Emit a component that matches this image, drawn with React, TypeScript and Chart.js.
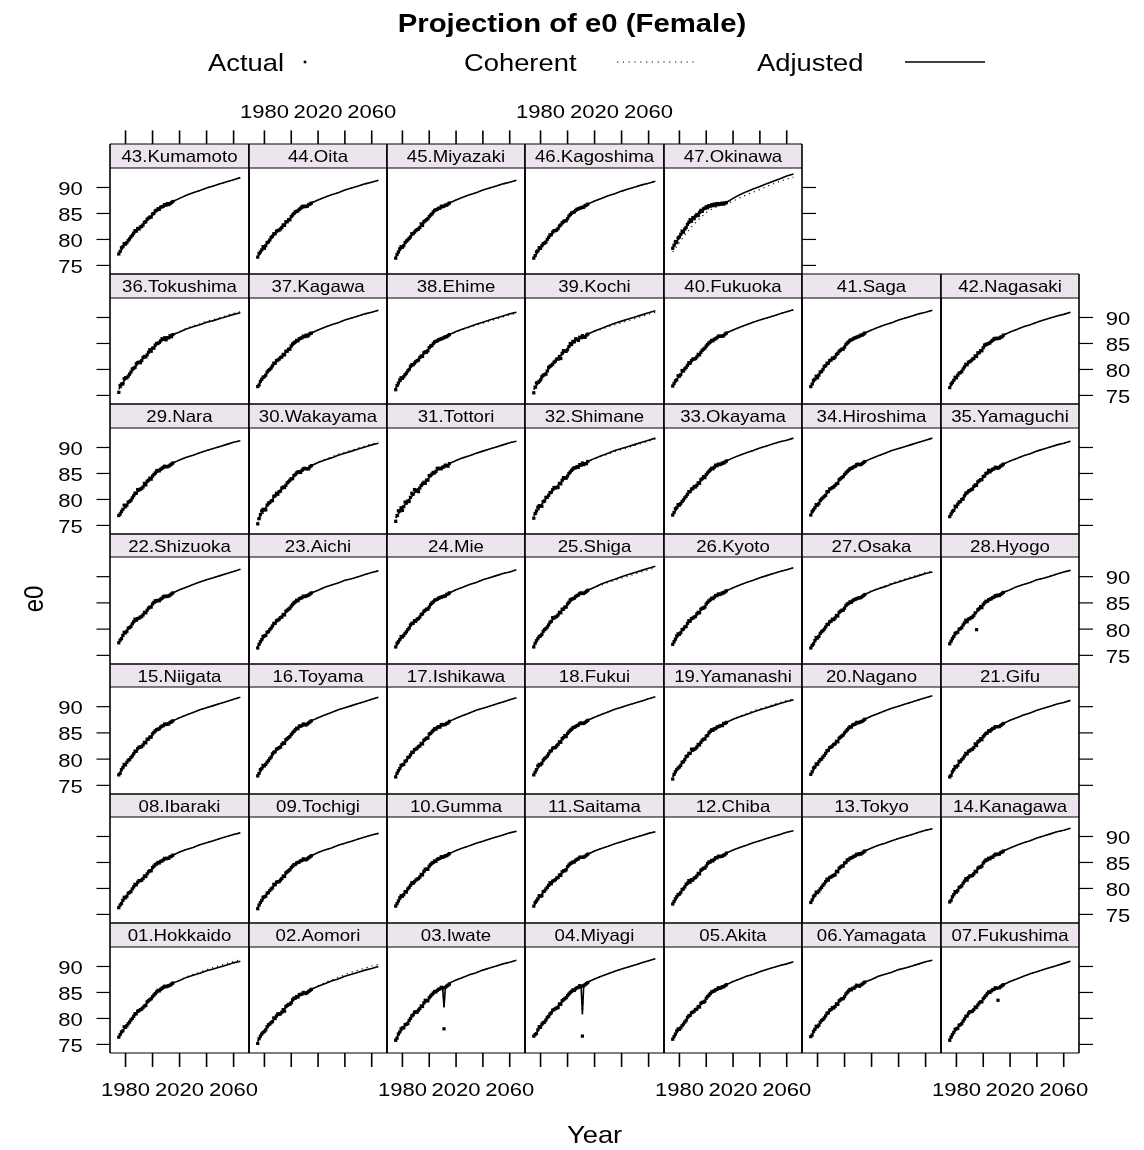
import React, { useEffect, useRef, useState } from "react";
import { Chart, registerables } from "chart.js";
Chart.register(...registerables);

// ---------------- data ----------------
const names = [
  "01.Hokkaido","02.Aomori","03.Iwate","04.Miyagi","05.Akita","06.Yamagata","07.Fukushima",
  "08.Ibaraki","09.Tochigi","10.Gumma","11.Saitama","12.Chiba","13.Tokyo","14.Kanagawa",
  "15.Niigata","16.Toyama","17.Ishikawa","18.Fukui","19.Yamanashi","20.Nagano","21.Gifu",
  "22.Shizuoka","23.Aichi","24.Mie","25.Shiga","26.Kyoto","27.Osaka","28.Hyogo",
  "29.Nara","30.Wakayama","31.Tottori","32.Shimane","33.Okayama","34.Hiroshima","35.Yamaguchi",
  "36.Tokushima","37.Kagawa","38.Ehime","39.Kochi","40.Fukuoka","41.Saga","42.Nagasaki",
  "43.Kumamoto","44.Oita","45.Miyazaki","46.Kagoshima","47.Okinawa",
];

const actualYears = [
  1975,1976,1977,1978,1979,1980,1981,1982,1983,1984,1985,1986,1987,1988,1989,1990,1991,1992,1993,1994,
  1995,1996,1997,1998,1999,2000,2001,2002,2003,2004,2005,2006,2007,2008,2009,2010,2011,2012,2013,2014,2015,
];

const lineYears = [
  1975,1980,1985,1990,1995,2000,2005,2010,2011,2012,2015,2020,2025,2030,2035,2040,2045,2050,2055,2060,2065,
];

const actual: number[][] = [
  [76.4,76.9,77.4,77.6,78.4,78.3,78.6,79.0,79.3,79.7,80.0,80.4,80.9,80.9,81.4,81.5,81.7,81.8,82.1,82.4,82.5,83.2,83.4,83.6,83.8,84.2,84.5,84.8,85.1,85.4,85.3,85.6,85.8,86.0,86.2,86.1,86.2,86.3,86.4,86.6,86.8],
  [75.2,76.1,76.6,77.0,77.3,77.5,77.8,78.4,78.8,78.9,79.2,79.4,80.1,80.0,80.5,80.9,80.8,80.9,81.2,81.7,81.4,82.3,82.5,82.7,82.7,83.0,83.6,83.9,83.9,84.2,84.1,84.6,84.6,84.7,85.0,84.9,84.8,85.0,85.2,85.4,85.6],
  [75.8,76.2,77.0,77.4,78.0,78.2,78.2,78.8,78.9,79.0,79.6,80.0,80.5,80.7,81.2,81.3,81.2,81.6,81.9,82.4,82.3,83.0,83.5,83.4,83.4,84.0,84.3,84.6,84.9,85.2,85.1,85.4,85.6,85.7,86.0,85.9,78.0,86.0,86.2,86.4,86.6],
  [76.6,76.9,77.1,77.8,78.4,78.3,78.9,79.2,79.3,79.7,80.2,80.4,80.9,81.1,81.6,81.7,81.9,82.0,82.1,82.8,82.7,83.4,83.6,83.8,84.0,84.4,84.7,85.0,85.2,85.5,85.4,85.7,85.9,86.0,86.3,86.2,76.6,86.3,86.5,86.7,86.9],
  [76.0,76.5,77.0,77.6,78.0,77.9,78.2,78.6,78.9,79.3,79.6,80.2,80.5,80.6,81.1,81.2,81.4,81.7,81.8,82.3,82.2,82.9,83.1,83.1,83.3,83.9,84.2,84.5,84.8,85.1,85.2,85.3,85.5,85.6,85.9,85.8,85.9,86.1,86.1,86.3,86.5],
  [76.5,76.8,77.5,77.9,78.5,78.4,78.7,79.3,79.6,79.8,80.1,80.5,81.0,81.1,81.6,81.7,82.1,82.0,82.3,82.8,82.7,83.4,83.6,83.8,83.8,84.2,84.7,85.0,85.3,85.6,85.5,85.8,85.8,86.1,86.4,86.3,86.2,86.4,86.6,86.8,87.0],
  [75.8,76.4,76.9,77.3,77.9,78.0,78.1,78.7,78.8,79.0,79.5,79.9,80.4,80.5,81.0,81.3,81.3,81.4,81.7,82.2,82.1,82.6,83.0,83.2,83.2,83.8,84.1,84.4,84.8,85.1,85.0,85.3,85.5,85.6,85.9,85.8,83.5,85.9,86.1,86.3,86.5],
  [76.3,76.8,77.1,77.7,78.3,78.2,78.5,79.1,79.2,79.4,79.9,80.3,80.8,80.7,81.2,81.5,81.5,81.6,81.9,82.4,82.3,82.8,83.2,83.4,83.4,84.0,84.3,84.6,84.7,85.0,84.9,85.2,85.3,85.5,85.8,85.7,85.8,85.8,86.1,86.2,86.4],
  [76.1,76.8,77.3,77.7,78.3,78.4,78.5,79.1,79.2,79.6,79.9,80.1,80.8,80.7,81.2,81.3,81.3,81.6,81.9,82.4,82.3,83.0,83.2,83.4,83.6,84.0,84.3,84.6,84.6,84.9,85.0,85.1,85.3,85.4,85.7,85.6,85.5,85.7,85.9,86.1,86.3],
  [76.6,77.1,77.6,78.2,78.6,78.5,78.8,79.4,79.3,79.9,80.2,80.6,81.1,81.0,81.3,81.6,81.8,81.9,82.2,82.7,82.6,83.3,83.7,83.7,83.7,84.3,84.6,84.9,85.0,85.3,85.2,85.6,85.7,85.8,86.1,86.0,86.1,86.3,86.3,86.5,86.7],
  [76.6,77.3,77.6,78.0,78.6,78.5,78.6,79.4,79.5,79.9,80.2,80.6,81.1,80.9,81.4,81.5,81.7,82.0,82.1,82.6,82.5,83.2,83.4,83.4,83.6,84.2,84.5,84.8,84.9,85.1,85.1,85.4,85.6,85.7,86.0,86.0,86.0,86.0,86.2,86.4,86.6],
  [77.0,77.5,78.0,78.4,78.8,78.9,79.2,79.8,79.9,80.3,80.8,81.0,81.5,81.2,81.7,81.6,82.0,82.1,82.4,82.9,82.8,83.5,83.7,83.9,83.9,84.3,84.8,85.1,85.1,85.4,85.3,85.6,85.9,85.9,86.2,86.1,86.2,86.2,86.4,86.5,86.8],
  [77.3,77.8,78.5,78.7,79.3,79.2,79.5,79.9,80.2,80.6,80.9,81.3,81.8,81.6,82.1,82.2,82.4,82.5,82.6,83.3,83.2,83.9,84.1,84.3,84.3,84.9,85.0,85.5,85.5,85.8,85.9,86.0,86.2,86.3,86.6,86.5,86.7,86.6,86.8,87.0,87.2],
  [77.4,77.7,78.4,78.8,79.4,79.3,79.6,80.2,80.3,80.5,81.0,81.4,81.9,81.6,82.1,82.4,82.4,82.5,82.8,83.3,83.2,83.9,84.1,84.1,84.3,84.9,85.2,85.5,85.5,85.8,85.7,86.0,86.0,86.3,86.6,86.5,86.6,86.6,86.9,87.0,87.2],
  [77.0,77.3,78.0,78.4,79.0,78.9,79.4,79.8,79.9,80.3,80.6,81.0,81.5,81.5,82.0,82.3,82.3,82.4,82.7,83.2,83.1,83.8,83.8,84.2,84.2,84.8,85.1,85.4,85.6,85.7,85.8,86.1,86.3,86.4,86.7,86.6,86.7,86.7,87.0,87.1,87.3],
  [76.8,77.3,78.0,78.2,78.8,78.7,79.0,79.4,79.7,80.1,80.4,81.0,81.3,81.4,81.9,82.0,82.2,82.3,82.8,83.1,83.0,83.7,83.9,84.1,84.3,84.7,85.0,85.3,85.6,85.9,85.8,86.3,86.3,86.4,86.7,86.6,86.5,86.7,86.9,87.1,87.3],
  [76.6,77.3,77.8,78.2,78.8,78.9,79.0,79.6,79.7,80.3,80.4,80.8,81.3,81.3,81.8,81.9,82.1,82.4,82.5,83.0,82.9,83.6,83.8,84.0,84.0,84.8,84.9,85.2,85.5,85.8,85.7,86.0,86.2,86.1,86.6,86.5,86.6,86.6,86.8,86.9,87.2],
  [77.0,77.5,78.0,78.7,79.0,78.9,79.2,79.8,80.1,80.3,80.6,81.0,81.5,81.6,82.1,82.2,82.2,82.5,82.8,83.3,83.2,83.9,84.1,84.5,84.3,84.9,85.2,85.5,85.7,86.0,86.1,86.2,86.4,86.5,86.8,86.9,86.8,86.8,87.0,87.2,87.4],
  [76.2,77.1,77.6,78.0,78.3,78.5,78.8,79.4,79.5,79.9,80.5,80.6,81.1,81.1,81.9,81.7,81.9,82.0,82.3,82.8,82.7,83.2,83.6,83.8,83.8,84.4,84.5,85.0,85.3,85.6,85.5,85.8,85.8,86.1,86.2,86.3,86.4,86.4,86.8,86.8,87.0],
  [77.1,77.6,78.3,78.5,79.1,79.0,79.5,79.9,80.0,80.4,80.7,81.1,81.6,81.7,82.2,82.3,82.5,82.8,82.9,83.4,83.3,84.0,84.2,84.4,84.6,85.0,85.3,85.6,85.9,86.2,86.1,86.5,86.6,86.7,87.0,86.9,87.0,87.1,87.2,87.4,87.6],
  [76.6,76.9,77.6,78.0,78.6,78.5,78.8,79.6,79.5,79.9,80.2,80.6,81.1,81.0,81.5,81.6,81.8,81.9,82.2,82.9,82.6,83.3,83.5,83.9,83.7,84.3,84.6,84.9,85.0,85.4,85.3,85.6,85.8,85.9,86.2,86.2,86.2,86.2,86.4,86.6,86.8],
  [77.4,77.9,78.2,78.8,79.4,79.3,79.6,80.2,80.3,80.5,81.0,81.4,81.9,81.7,82.0,82.1,82.3,82.4,82.7,83.2,83.1,83.6,84.0,84.2,84.2,84.8,85.1,85.4,85.4,85.5,85.4,85.7,85.9,86.2,86.3,86.2,86.3,86.3,86.5,86.7,86.9],
  [76.4,77.1,77.6,78.0,78.6,78.7,78.8,79.4,79.5,79.9,80.2,80.6,81.1,81.1,81.6,81.7,81.9,82.2,82.3,82.8,82.7,83.4,83.6,83.8,84.0,84.4,84.7,85.0,85.2,85.5,85.4,85.8,85.9,86.0,86.3,86.2,86.3,86.4,86.5,86.7,86.9],
  [76.6,77.3,77.6,78.0,78.6,78.5,78.8,79.2,79.5,79.9,80.2,80.8,81.1,81.1,81.6,81.5,81.9,82.0,82.3,82.8,82.9,83.4,83.6,83.8,83.8,84.2,84.7,85.0,85.2,85.5,85.6,85.7,85.9,86.0,86.1,86.2,86.3,86.3,86.6,86.7,86.9],
  [76.6,77.3,77.8,78.2,78.6,78.7,79.0,79.6,79.9,80.1,80.4,80.8,81.3,81.5,82.2,82.1,82.3,82.4,82.7,83.2,83.1,83.8,83.8,84.2,84.2,84.8,85.1,85.6,85.7,85.8,85.9,86.2,86.4,86.5,86.8,86.9,86.8,86.8,87.0,87.2,87.4],
  [77.1,77.6,78.1,78.7,79.1,79.0,79.3,79.9,80.0,80.4,80.5,81.1,81.6,81.5,82.0,82.1,82.3,82.4,82.9,83.2,83.1,83.8,84.0,84.0,84.2,84.8,85.1,85.4,85.6,85.9,85.8,86.1,86.4,86.4,86.7,86.6,86.7,86.9,86.9,87.1,87.3],
  [76.4,76.9,77.2,77.8,78.4,78.3,78.6,79.2,79.5,79.7,80.0,80.4,80.9,80.9,81.4,81.5,81.9,81.8,82.1,82.6,82.5,83.2,83.4,83.6,83.6,84.0,84.5,84.8,84.9,85.2,85.1,85.4,85.6,85.7,85.8,85.9,86.0,86.0,86.2,86.4,86.6],
  [77.2,77.7,78.2,78.6,79.2,79.3,79.4,80.0,80.1,80.3,80.8,81.2,81.7,81.4,81.9,82.0,82.2,82.3,82.6,83.1,79.9,83.7,83.9,84.3,84.1,84.7,85.0,85.3,85.3,85.6,85.7,85.8,86.0,86.1,86.4,86.3,86.5,86.4,86.6,86.8,87.0],
  [76.9,77.2,77.7,78.1,78.9,78.6,78.9,79.5,79.6,79.8,80.3,80.7,81.2,81.2,81.9,81.8,82.0,82.1,82.4,83.1,82.8,83.5,83.7,84.1,83.9,84.5,84.8,85.1,85.5,85.6,85.5,85.8,86.0,86.2,86.4,86.3,86.3,86.4,86.6,86.8,87.0],
  [75.3,76.3,77.1,77.8,78.1,78.0,78.0,78.9,79.3,79.4,79.7,79.8,80.6,80.7,81.2,81.0,81.5,81.6,82.2,82.4,82.3,82.7,83.2,83.4,83.7,84.0,84.0,84.6,84.8,85.1,85.3,85.3,85.2,85.6,85.9,86.0,85.9,85.9,85.9,86.3,86.5],
  [75.8,76.9,77.8,77.8,78.4,77.9,78.6,79.5,79.3,79.7,79.6,80.4,81.2,81.0,81.9,81.6,81.8,81.5,82.2,82.7,83.0,83.3,83.1,83.7,83.7,84.6,84.6,84.9,85.2,85.1,85.4,86.0,85.9,86.0,85.9,86.2,86.3,86.6,86.5,86.4,86.9],
  [76.4,77.3,77.8,78.5,78.8,78.7,78.7,79.6,79.7,80.4,80.4,80.8,81.3,81.4,81.9,82.3,82.2,82.3,82.3,83.1,83.0,83.7,84.2,84.1,84.1,84.5,85.0,85.3,85.6,85.9,86.1,86.1,86.3,86.2,86.7,86.6,87.0,86.7,86.9,86.9,87.3],
  [77.0,77.5,78.2,78.4,79.0,78.9,79.2,79.6,79.9,80.3,80.6,81.0,81.5,81.5,82.0,82.1,82.5,82.4,82.7,83.2,83.1,83.8,84.0,84.4,84.2,84.8,85.1,85.4,85.7,86.0,85.9,86.2,86.6,86.5,86.8,86.7,86.8,87.0,87.0,87.2,87.4],
  [77.0,77.7,78.0,78.4,79.0,78.9,79.2,79.8,80.1,80.3,80.6,80.8,81.5,81.5,82.0,82.1,82.3,82.4,82.7,83.0,83.1,83.8,84.0,84.2,84.4,84.8,85.1,85.4,85.6,85.9,86.0,86.1,86.3,86.4,86.7,86.8,86.7,86.7,86.9,87.1,87.3],
  [76.7,77.2,77.7,77.9,78.7,78.6,79.1,79.5,79.6,80.0,80.1,80.7,81.2,81.3,81.6,81.7,81.9,82.0,82.5,82.8,82.7,83.4,83.6,83.8,83.8,84.4,84.5,85.0,85.1,85.6,85.3,85.6,85.8,85.9,86.2,86.1,86.0,86.2,86.4,86.6,86.8],
  [75.6,76.9,77.2,77.2,78.2,78.4,78.4,78.7,79.1,79.5,80.1,80.2,80.4,81.1,81.3,81.4,81.3,81.7,82.3,82.5,82.4,82.8,83.3,83.8,83.5,84.1,84.1,84.7,85.0,85.0,85.2,85.5,85.9,85.8,86.1,85.7,86.1,86.1,86.5,86.3,86.7],
  [76.7,77.0,77.7,78.1,78.5,78.6,78.9,79.5,79.8,80.0,80.3,80.7,81.2,81.2,81.7,81.8,82.0,82.3,82.4,82.9,82.8,83.5,83.5,83.9,83.9,84.5,84.9,85.1,85.3,85.6,85.5,85.9,86.0,86.1,86.4,86.3,86.6,86.4,86.6,86.9,87.0],
  [76.1,76.9,77.4,78.0,78.4,78.3,78.6,79.0,79.3,79.7,80.0,80.6,80.9,80.9,81.2,81.5,81.7,81.8,82.3,82.6,82.5,83.2,83.4,83.3,83.6,84.2,84.5,84.6,85.0,85.3,85.4,85.5,85.7,85.8,85.9,86.0,86.1,86.3,86.3,86.5,86.7],
  [75.5,76.6,77.4,77.5,77.7,78.0,78.6,78.9,79.0,79.1,79.7,80.4,80.6,80.8,81.0,81.4,81.6,82.0,82.0,82.5,82.1,83.1,83.6,83.5,83.5,83.8,84.4,85.0,84.8,85.4,85.3,85.9,85.8,85.6,86.2,86.1,86.5,86.2,86.2,86.6,86.8],
  [76.8,77.3,77.8,78.0,78.8,78.7,79.0,79.8,79.7,80.1,80.4,80.8,81.3,81.2,81.7,82.0,82.0,82.1,82.4,82.9,82.8,83.3,83.7,83.9,84.1,84.5,84.8,85.1,85.3,85.6,85.5,85.8,85.9,86.1,86.4,86.4,86.4,86.4,86.5,86.8,87.0],
  [76.7,77.2,77.9,78.1,78.7,78.4,78.9,79.5,79.6,80.0,80.6,80.7,81.2,81.2,81.7,81.8,82.2,82.1,82.4,82.9,83.1,83.5,83.7,83.9,83.9,84.3,84.8,85.1,85.3,85.6,85.7,85.8,86.0,86.1,86.2,86.3,86.4,86.6,86.6,86.8,87.0],
  [76.5,77.2,77.5,77.9,78.5,78.4,78.9,79.3,79.4,79.6,80.1,80.5,81.0,80.9,81.4,81.5,81.7,82.0,82.1,82.6,82.5,83.2,83.2,83.6,83.6,84.2,84.7,84.8,84.9,85.0,85.1,85.4,85.6,85.9,86.0,85.9,86.0,86.0,86.2,86.3,86.6],
  [77.2,77.7,78.4,78.6,79.2,79.1,79.4,79.8,80.1,80.5,80.8,81.2,81.7,81.6,82.1,82.0,82.4,82.5,82.8,83.3,83.4,83.9,84.1,84.3,84.3,84.9,85.0,85.5,85.6,85.9,85.8,86.2,86.3,86.4,86.7,86.6,86.9,86.7,86.9,87.1,87.3],
  [76.6,77.3,77.6,78.0,78.6,78.3,78.8,79.4,79.5,79.9,80.4,80.6,81.1,81.1,81.6,81.7,81.8,82.0,82.3,82.8,82.7,83.4,83.4,83.8,83.8,84.4,84.7,85.0,85.3,85.4,85.5,85.8,86.0,86.3,86.4,86.3,86.4,86.4,86.7,86.8,87.0],
  [76.4,77.1,77.6,78.2,78.6,78.5,78.8,79.4,79.7,79.9,80.2,80.5,81.1,81.1,81.4,81.7,81.9,82.0,82.3,83.0,82.7,83.4,83.6,83.8,84.0,84.4,84.7,84.9,85.3,85.6,85.7,85.8,86.0,86.0,86.4,86.3,86.4,86.6,86.6,86.8,87.0],
  [76.4,76.9,77.6,77.8,78.4,78.3,78.8,79.2,79.3,79.5,80.0,80.4,80.9,80.9,81.4,81.7,81.7,81.8,82.1,82.6,82.8,83.2,83.4,83.6,83.6,84.0,84.5,84.8,85.1,85.2,85.3,85.6,85.8,85.9,86.0,86.1,86.2,86.2,86.5,86.6,86.8],
  [78.3,78.9,79.6,79.4,80.3,80.5,81.0,81.6,81.4,82.0,82.3,82.9,83.3,83.8,83.5,84.2,84.0,84.5,84.8,84.6,85.2,85.6,85.4,85.9,86.0,86.3,86.1,86.5,86.4,86.7,86.5,86.8,86.6,86.9,86.7,86.9,86.8,87.0,86.8,87.0,87.1],
];

const adjusted: number[][] = [
  [76.4,78.4,80.0,81.5,82.7,84.1,85.4,86.1,86.2,86.3,86.8,87.3,87.9,88.3,88.7,89.2,89.5,89.9,90.3,90.7,91.0],
  [75.6,77.6,79.2,80.6,81.8,83.2,84.2,84.9,85.0,85.1,85.6,86.2,86.7,87.2,87.6,88.1,88.5,88.9,89.3,89.6,90.0],
  [76.0,78.0,79.6,81.3,82.5,83.9,85.2,85.9,82.1,86.0,86.8,87.4,87.9,88.4,88.8,89.3,89.7,90.1,90.5,90.8,91.2],
  [76.4,78.4,80.0,81.7,82.9,84.3,85.6,86.3,80.8,86.5,87.0,87.6,88.1,88.6,89.1,89.5,89.9,90.3,90.7,91.1,91.5],
  [76.0,78.0,79.6,81.2,82.4,83.8,85.1,85.8,85.9,86.0,86.5,87.1,87.6,88.1,88.5,89.0,89.4,89.8,90.2,90.5,90.9],
  [76.5,78.5,80.1,81.7,82.9,84.3,85.6,86.3,86.4,86.5,87.0,87.5,88.1,88.5,88.9,89.4,89.7,90.1,90.5,90.9,91.2],
  [75.9,77.9,79.5,81.1,82.3,83.7,85.1,85.8,85.9,86.0,86.5,87.1,87.6,88.1,88.6,89.0,89.4,89.8,90.2,90.6,91.0],
  [76.3,78.3,79.9,81.3,82.5,83.9,85.0,85.7,85.8,85.9,86.4,87.0,87.5,87.9,88.4,88.8,89.2,89.6,90.0,90.4,90.7],
  [76.3,78.3,79.9,81.3,82.5,83.9,84.9,85.6,85.7,85.8,86.3,86.9,87.4,87.8,88.3,88.7,89.1,89.5,89.9,90.3,90.6],
  [76.6,78.6,80.2,81.6,82.8,84.2,85.3,86.0,86.1,86.2,86.7,87.3,87.8,88.2,88.7,89.1,89.5,89.9,90.3,90.7,91.0],
  [76.6,78.6,80.2,81.5,82.7,84.1,85.2,85.9,86.0,86.1,86.6,87.2,87.7,88.1,88.6,89.0,89.4,89.8,90.2,90.6,90.9],
  [77.0,79.0,80.6,81.8,83.0,84.4,85.4,86.1,86.2,86.3,86.8,87.4,87.9,88.3,88.8,89.2,89.6,90.0,90.4,90.8,91.1],
  [77.3,79.3,80.9,82.2,83.4,84.8,85.8,86.5,86.6,86.7,87.2,87.8,88.3,88.7,89.2,89.6,90.0,90.4,90.8,91.2,91.5],
  [77.4,79.4,81.0,82.2,83.4,84.8,85.8,86.5,86.6,86.7,87.2,87.8,88.3,88.8,89.2,89.7,90.1,90.5,90.9,91.2,91.6],
  [77.0,79.0,80.6,82.1,83.3,84.7,85.9,86.6,86.7,86.8,87.3,87.9,88.4,88.9,89.4,89.8,90.2,90.6,91.0,91.4,91.8],
  [76.8,78.8,80.4,82.0,83.2,84.6,85.9,86.6,86.7,86.8,87.3,87.9,88.4,88.9,89.4,89.8,90.2,90.6,91.0,91.4,91.8],
  [76.8,78.8,80.4,81.9,83.1,84.5,85.8,86.5,86.6,86.7,87.2,87.8,88.3,88.8,89.3,89.7,90.1,90.5,90.9,91.3,91.7],
  [77.0,79.0,80.6,82.2,83.4,84.8,86.0,86.7,86.8,86.9,87.4,88.0,88.5,89.0,89.5,89.9,90.3,90.7,91.1,91.5,91.9],
  [76.6,78.6,80.2,81.7,82.9,84.3,85.6,86.3,86.4,86.5,87.0,87.6,88.1,88.5,89.0,89.4,89.8,90.2,90.6,91.0,91.3],
  [77.1,79.1,80.7,82.3,83.5,84.9,86.2,86.9,87.0,87.1,87.6,88.2,88.7,89.2,89.7,90.1,90.5,90.9,91.3,91.7,92.1],
  [76.6,78.6,80.2,81.6,82.8,84.2,85.4,86.1,86.2,86.3,86.8,87.4,87.9,88.4,88.8,89.3,89.7,90.1,90.5,90.8,91.2],
  [77.4,79.4,81.0,82.1,83.3,84.7,85.5,86.2,86.3,86.4,86.9,87.5,88.0,88.5,89.0,89.4,89.8,90.2,90.6,91.0,91.4],
  [76.6,78.6,80.2,81.7,82.9,84.3,85.5,86.2,86.3,86.4,86.9,87.4,88.0,88.4,88.8,89.3,89.6,90.0,90.4,90.8,91.1],
  [76.6,78.6,80.2,81.7,82.9,84.3,85.5,86.2,86.3,86.4,86.9,87.5,88.0,88.5,88.9,89.4,89.8,90.2,90.6,90.9,91.3],
  [76.8,78.8,80.4,82.1,83.3,84.7,86.0,86.7,86.8,86.9,87.4,88.0,88.6,89.1,89.5,90.0,90.4,90.8,91.2,91.6,92.0],
  [77.1,79.1,80.7,82.1,83.3,84.7,85.9,86.6,86.7,86.8,87.3,87.9,88.4,88.9,89.3,89.8,90.2,90.6,91.0,91.3,91.7],
  [76.4,78.4,80.0,81.5,82.7,84.1,85.2,85.9,86.0,86.1,86.6,87.2,87.7,88.1,88.6,89.0,89.4,89.8,90.2,90.6,90.9],
  [77.2,79.2,80.8,82.0,83.2,84.6,85.6,86.3,86.4,86.5,87.0,87.5,88.1,88.5,88.9,89.4,89.7,90.1,90.5,90.9,91.2],
  [76.7,78.7,80.3,81.8,83.0,84.4,85.6,86.3,86.4,86.5,87.0,87.6,88.1,88.5,89.0,89.4,89.8,90.2,90.6,91.0,91.3],
  [76.1,78.1,79.7,81.3,82.5,83.9,85.1,85.8,85.9,86.0,86.5,87.1,87.6,88.0,88.5,88.9,89.3,89.7,90.1,90.5,90.8],
  [76.4,78.4,80.0,81.6,82.8,84.2,85.5,86.2,86.3,86.4,86.9,87.5,88.0,88.4,88.9,89.3,89.7,90.1,90.5,90.9,91.2],
  [76.8,78.8,80.4,82.0,83.2,84.6,85.9,86.6,86.7,86.8,87.3,87.9,88.4,88.9,89.4,89.8,90.2,90.6,91.0,91.4,91.8],
  [77.0,79.0,80.6,82.1,83.3,84.7,86.0,86.7,86.8,86.9,87.4,88.0,88.5,89.0,89.4,89.9,90.3,90.7,91.1,91.4,91.8],
  [77.0,79.0,80.6,82.1,83.3,84.7,85.9,86.6,86.7,86.8,87.3,87.9,88.4,88.9,89.4,89.8,90.2,90.6,91.0,91.4,91.8],
  [76.7,78.7,80.3,81.7,82.9,84.3,85.4,86.1,86.2,86.3,86.8,87.4,87.9,88.4,88.8,89.3,89.7,90.1,90.5,90.8,91.2],
  [76.2,78.2,79.8,81.4,82.6,84.0,85.3,86.0,86.1,86.2,86.7,87.2,87.8,88.2,88.6,89.1,89.4,89.8,90.2,90.6,90.9],
  [76.7,78.7,80.3,81.8,83.0,84.4,85.6,86.3,86.4,86.5,87.0,87.6,88.1,88.6,89.0,89.5,89.9,90.3,90.7,91.0,91.4],
  [76.4,78.4,80.0,81.5,82.7,84.1,85.3,86.0,86.1,86.2,86.7,87.3,87.8,88.2,88.7,89.1,89.5,89.9,90.3,90.7,91.0],
  [76.1,78.1,79.7,81.4,82.6,84.0,85.4,86.1,86.2,86.3,86.8,87.4,87.9,88.4,88.9,89.3,89.7,90.1,90.5,90.9,91.3],
  [76.8,78.8,80.4,81.8,83.0,84.4,85.6,86.3,86.4,86.5,87.0,87.6,88.1,88.6,89.1,89.5,89.9,90.3,90.7,91.1,91.5],
  [76.7,78.7,80.3,81.8,83.0,84.4,85.6,86.3,86.4,86.5,87.0,87.6,88.1,88.6,89.0,89.5,89.9,90.3,90.7,91.0,91.4],
  [76.5,78.5,80.1,81.5,82.7,84.1,85.2,85.9,86.0,86.1,86.6,87.2,87.7,88.2,88.6,89.1,89.5,89.9,90.3,90.6,91.0],
  [77.2,79.2,80.8,82.2,83.4,84.8,85.9,86.6,86.7,86.8,87.3,87.9,88.5,89.0,89.4,89.9,90.3,90.7,91.1,91.5,91.9],
  [76.6,78.6,80.2,81.7,82.9,84.3,85.6,86.3,86.4,86.5,87.0,87.6,88.1,88.6,89.0,89.5,89.9,90.3,90.7,91.0,91.4],
  [76.6,78.6,80.2,81.7,82.9,84.3,85.6,86.3,86.4,86.5,87.0,87.6,88.1,88.6,89.0,89.5,89.9,90.3,90.7,91.0,91.4],
  [76.4,78.4,80.0,81.5,82.7,84.1,85.4,86.1,86.2,86.3,86.8,87.4,87.9,88.4,88.8,89.3,89.7,90.1,90.5,90.8,91.2],
  [78.4,80.4,82.4,84.1,85.2,86.2,86.6,86.9,86.9,86.9,87.1,87.9,88.6,89.2,89.7,90.2,90.7,91.2,91.7,92.2,92.6],
];

// coherent forecast: null where it coincides with the adjusted curve
const coherent: (number[] | null)[] = [
  [76.4,78.4,80.0,81.5,82.7,84.1,85.4,86.1,86.2,86.3,86.8,87.4,88.0,88.5,88.9,89.4,89.8,90.2,90.6,91.0,91.3],
  [75.6,77.6,79.2,80.6,81.8,83.2,84.2,84.9,85.0,85.1,85.6,86.3,86.9,87.4,87.9,88.4,88.9,89.3,89.7,90.1,90.4],
  null, null, null, null, null,
  null, null, null, null, null, null, null,
  null, null, null, null,
  [76.6,78.6,80.2,81.7,82.9,84.3,85.6,86.3,86.4,86.5,87.0,87.7,88.2,88.7,89.2,89.6,90.0,90.4,90.8,91.2,91.5],
  null, null,
  null, null, null,
  [76.8,78.8,80.4,82.1,83.3,84.7,86.0,86.7,86.8,86.9,87.4,87.9,88.4,88.9,89.3,89.7,90.1,90.5,90.9,91.3,91.7],
  null,
  [76.4,78.4,80.0,81.5,82.7,84.1,85.2,85.9,86.0,86.1,86.6,87.3,87.8,88.3,88.8,89.2,89.6,90.0,90.4,90.8,91.1],
  null,
  null,
  [75.5,77.7,79.5,81.3,82.5,83.9,85.1,85.8,85.9,86.0,86.5,87.2,87.7,88.2,88.7,89.1,89.5,89.9,90.3,90.7,91.0],
  [75.8,78.0,79.8,81.6,82.8,84.2,85.5,86.2,86.3,86.4,86.9,87.5,88.0,88.4,88.9,89.3,89.7,90.1,90.5,90.9,91.2],
  [76.2,78.4,80.2,82.0,83.2,84.6,85.9,86.6,86.7,86.8,87.3,87.8,88.3,88.7,89.2,89.6,90.0,90.4,90.8,91.2,91.6],
  null, null, null,
  [75.5,77.8,79.6,81.4,82.6,84.0,85.3,86.0,86.1,86.2,86.7,87.3,87.9,88.4,88.8,89.3,89.6,90.0,90.4,90.8,91.1],
  null,
  [75.9,78.1,79.8,81.5,82.7,84.1,85.3,86.0,86.1,86.2,86.7,87.2,87.7,88.1,88.5,88.9,89.3,89.7,90.1,90.5,90.8],
  [75.5,77.7,79.5,81.4,82.6,84.0,85.4,86.1,86.2,86.3,86.8,87.3,87.7,88.2,88.6,89.0,89.4,89.8,90.2,90.6,91.0],
  null, null, null,
  null, null, null, null,
  [77.6,79.4,81.2,82.7,84.0,85.2,86.0,86.5,86.6,86.6,86.8,87.4,88.0,88.6,89.1,89.6,90.2,90.7,91.2,91.6,92.0],
];

const xTicks = [1980, 2000, 2020, 2040, 2060];
const xTickLabels = ["1980", "", "2020", "", "2060"];
const yTicks = [75, 80, 85, 90];
const yTickLabels = ["75", "80", "85", "90"];

const X_MIN = 1968.5, X_MAX = 2071.4;
const Y_MIN = 73.35, Y_MAX = 93.75;

// ---------------- layout ----------------
const FONT = '"Liberation Sans", Arial, Helvetica, sans-serif';
const STRIP_BG = "#EDE5ED";
const colEdge = (c: number) => Math.round(110.2 + c * 138.4);
const stripTop = (r: number) => Math.round(144.3 + r * 129.86);
const plotTop = (r: number) => Math.round(144.3 + r * 129.86 + 23.5);
const plotBottom = (r: number) => Math.round(144.3 + (r + 1) * 129.86);

type Geo = { i: number; r: number; c: number; x0: number; x1: number; st: number; pt: number; pb: number };
const geos: Geo[] = names.map((_, i) => {
  const r = 6 - Math.floor(i / 7);
  const c = i % 7;
  return { i, r, c, x0: colEdge(c), x1: colEdge(c + 1), st: stripTop(r), pt: plotTop(r), pb: plotBottom(r) };
});

function Txt(p: any) {
  const { x, y, size, sx = 1.15, anchor = "middle", weight = "normal", base = "central", rot = 0, children } = p;
  return (
    <text
      transform={`translate(${x} ${y}) scale(${sx} 1)${rot ? ` rotate(${rot})` : ""}`}
      fontFamily={FONT}
      fontSize={size}
      fontWeight={weight}
      textAnchor={anchor}
      dominantBaseline={base}
      fill="#000"
    >
      {children}
    </text>
  );
}

const TICK_SIZE = 19;
const TICK_SX = 1.16;

export default function App() {
  const canvasRefs = useRef<(HTMLCanvasElement | null)[]>([]);
  const [tk, setTk] = useState<{ xs: number[][]; ys: number[][] } | null>(null);

  useEffect(() => {
    const charts = geos.map((g) => {
      const cv = canvasRefs.current[g.i] as HTMLCanvasElement;
      const adj = adjusted[g.i];
      const coh = coherent[g.i] ?? adj;
      return new Chart(cv, {
        type: "line",
        data: {
          datasets: [
            {
              label: "Adjusted",
              data: lineYears.map((x, k) => ({ x, y: adj[k] })),
              borderColor: "#000",
              borderWidth: 1.6,
              pointRadius: 0,
              tension: 0,
              fill: false,
            },
            {
              label: "Coherent",
              data: lineYears.map((x, k) => ({ x, y: coh[k] })),
              borderColor: "#111",
              borderWidth: 1.2,
              borderDash: [1.2, 4],
              pointRadius: 0,
              tension: 0,
              fill: false,
            },
            {
              label: "Actual",
              data: actualYears.map((x, k) => ({ x, y: actual[g.i][k] })),
              showLine: false,
              pointStyle: "rect",
              pointRadius: 2.3,
              pointBackgroundColor: "#000",
              pointBorderWidth: 0,
              pointBorderColor: "#000",
            },
          ],
        },
        options: {
          responsive: false,
          maintainAspectRatio: false,
          animation: false,
          devicePixelRatio: 1,
          events: [],
          layout: { padding: 0, autoPadding: false },
          plugins: { legend: { display: false }, tooltip: { enabled: false } },
          scales: {
            x: { type: "linear", min: X_MIN, max: X_MAX, display: false },
            y: { type: "linear", min: Y_MIN, max: Y_MAX, display: false },
          },
        },
      } as any);
    });
    setTk({
      xs: charts.map((ch) => xTicks.map((v) => ch.scales.x.getPixelForValue(v))),
      ys: charts.map((ch) => yTicks.map((v) => ch.scales.y.getPixelForValue(v))),
    });
    return () => charts.forEach((ch) => ch.destroy());
  }, []);

  const els: any[] = [];
  geos.forEach((g) => {
    els.push(<rect key={`sb${g.i}`} x={g.x0} y={g.st} width={g.x1 - g.x0} height={g.pt - g.st} fill={STRIP_BG} />);
    els.push(
      <Txt key={`sl${g.i}`} x={(g.x0 + g.x1) / 2} y={(g.st + g.pt) / 2 + 0.5} size={16.5} sx={1.13}>
        {names[g.i]}
      </Txt>
    );
    [g.st, g.pt, g.pb].forEach((y, k) =>
      els.push(<line key={`h${g.i}_${k}`} x1={g.x0} y1={y} x2={g.x1} y2={y} stroke="#000" strokeWidth={1.2} />)
    );
    [g.x0, g.x1].forEach((x, k) =>
      els.push(<line key={`v${g.i}_${k}`} x1={x} y1={g.st} x2={x} y2={g.pb} stroke="#000" strokeWidth={1.6} />)
    );
    if (!tk) return;
    const xs = tk.xs[g.i];
    const ys = tk.ys[g.i];
    if (g.c === 0) {
      ys.forEach((py, k) => {
        const y = g.pt + py;
        els.push(<line key={`lt${g.i}_${k}`} x1={g.x0 - 13.5} y1={y} x2={g.x0} y2={y} stroke="#000" strokeWidth={1.2} />);
        if (g.r % 2 === 0)
          els.push(
            <Txt key={`ll${g.i}_${k}`} x={g.x0 - 27.3} y={y + 0.5} size={TICK_SIZE} sx={TICK_SX} anchor="end">
              {yTickLabels[k]}
            </Txt>
          );
      });
    }
    const last = g.r === 0 ? 4 : 6;
    if (g.c === last) {
      ys.forEach((py, k) => {
        const y = g.pt + py;
        els.push(<line key={`rt${g.i}_${k}`} x1={g.x1} y1={y} x2={g.x1 + 14} y2={y} stroke="#000" strokeWidth={1.2} />);
        if (g.r % 2 === 1)
          els.push(
            <Txt key={`rl${g.i}_${k}`} x={g.x1 + 26.7} y={y + 0.5} size={TICK_SIZE} sx={TICK_SX} anchor="start">
              {yTickLabels[k]}
            </Txt>
          );
      });
    }
    if (g.r === 6) {
      xs.forEach((px, k) => {
        const x = g.x0 + px;
        els.push(<line key={`bt${g.i}_${k}`} x1={x} y1={g.pb} x2={x} y2={g.pb + 14} stroke="#000" strokeWidth={1.6} />);
        if (g.c % 2 === 0 && xTickLabels[k])
          els.push(
            <Txt key={`bl${g.i}_${k}`} x={x} y={g.pb + 36.5} size={TICK_SIZE} sx={TICK_SX}>
              {xTickLabels[k]}
            </Txt>
          );
      });
    }
    if (g.r === 0) {
      xs.forEach((px, k) => {
        const x = g.x0 + px;
        els.push(<line key={`tt${g.i}_${k}`} x1={x} y1={g.st - 13.6} x2={x} y2={g.st} stroke="#000" strokeWidth={1.6} />);
        if (g.c % 2 === 1 && xTickLabels[k])
          els.push(
            <Txt key={`tl${g.i}_${k}`} x={x} y={g.st - 33.3} size={TICK_SIZE} sx={TICK_SX}>
              {xTickLabels[k]}
            </Txt>
          );
      });
    }
  });

  return (
    <div style={{ position: "absolute", left: 0, top: 0, width: 1144, height: 1150, background: "#fff", overflow: "hidden" }}>
      {geos.map((g) => (
        <canvas
          key={g.i}
          ref={(el) => {
            canvasRefs.current[g.i] = el;
          }}
          width={g.x1 - g.x0}
          height={g.pb - g.pt}
          style={{ position: "absolute", left: g.x0, top: g.pt, width: g.x1 - g.x0, height: g.pb - g.pt }}
        />
      ))}
      <svg width={1144} height={1150} style={{ position: "absolute", left: 0, top: 0, pointerEvents: "none" }}>
        <Txt x={572} y={31.5} size={25.5} sx={1.15} weight="bold" base="alphabetic">
          Projection of e0 (Female)
        </Txt>
        <Txt x={208} y={70.7} size={24} sx={1.14} anchor="start" base="alphabetic">
          Actual
        </Txt>
        <rect x={303.7} y={60.7} width={2.6} height={2.6} fill="#000" />
        <Txt x={464} y={70.7} size={24} sx={1.14} anchor="start" base="alphabetic">
          Coherent
        </Txt>
        <line x1={617} y1={62} x2={697} y2={62} stroke="#000" strokeWidth={1.2} strokeDasharray="1.2 4.6" />
        <Txt x={757} y={70.7} size={24} sx={1.14} anchor="start" base="alphabetic">
          Adjusted
        </Txt>
        <line x1={905} y1={62} x2={985} y2={62} stroke="#000" strokeWidth={1.4} />
        {els}
        <Txt x={594.6} y={1135} size={24} sx={1.14}>
          Year
        </Txt>
        <Txt x={33} y={599} size={24} sx={1.14} rot={-90}>
          e0
        </Txt>
      </svg>
    </div>
  );
}
